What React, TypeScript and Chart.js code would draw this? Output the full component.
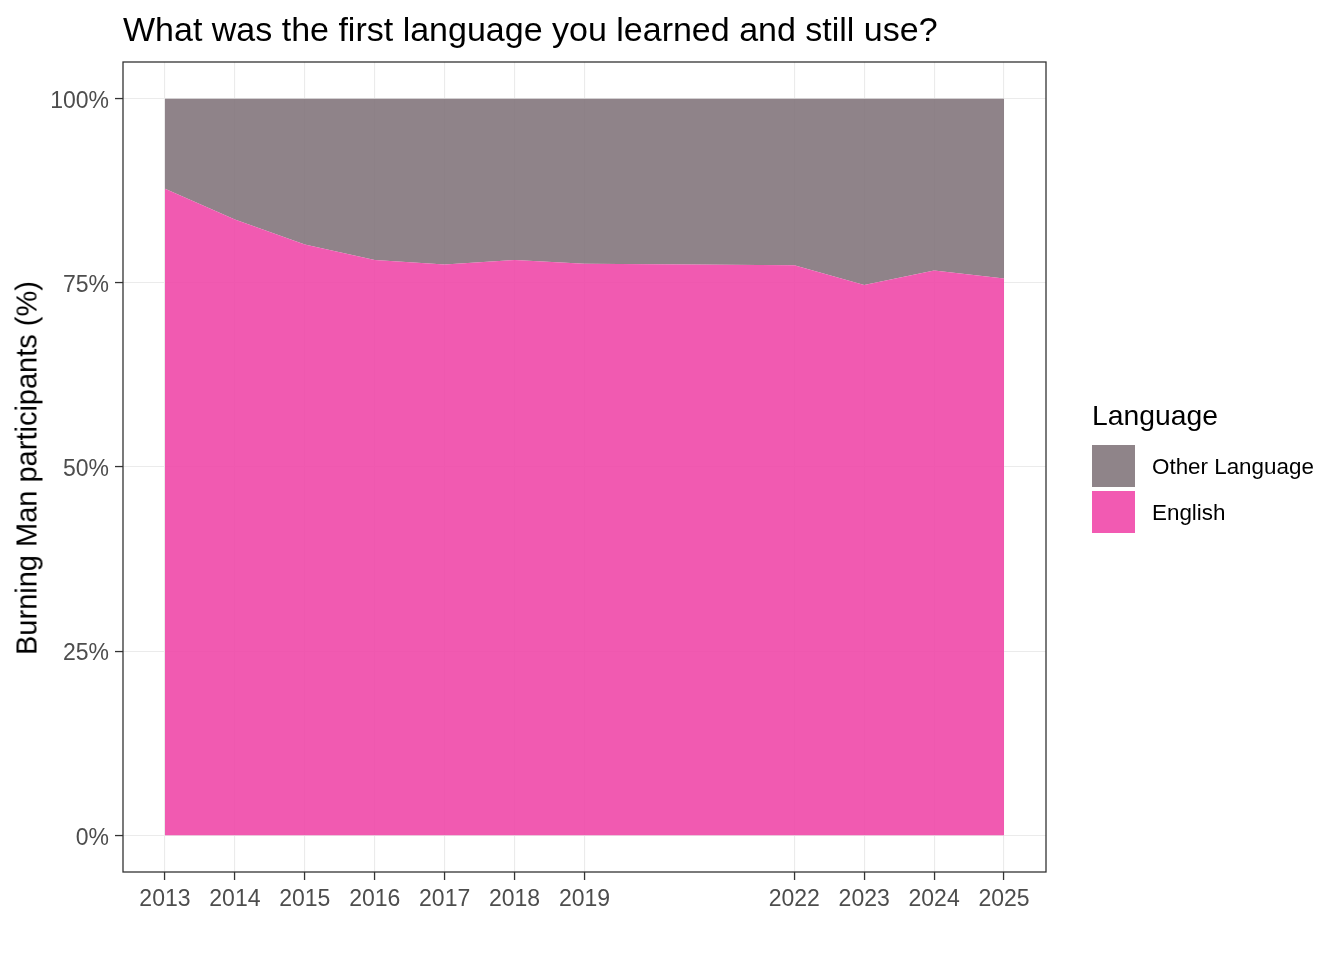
import React, { useEffect, useRef } from 'react';
import { Chart, registerables } from 'chart.js';

Chart.register(...registerables);

const years = [2013, 2014, 2015, 2016, 2017, 2018, 2019, 2022, 2023, 2024, 2025];
const english = [87.8, 83.6, 80.2, 78.1, 77.5, 78.1, 77.6, 77.4, 74.7, 76.7, 75.6];
const otherLanguage = [12.2, 16.4, 19.8, 21.9, 22.5, 21.9, 22.4, 22.6, 25.3, 23.3, 24.4];
const yTicks = [0, 25, 50, 75, 100];

const FONT = '"Liberation Sans", Arial, sans-serif';
const PINK = 'rgba(240, 72, 169, 0.9)';
const GREY = 'rgba(131, 118, 124, 0.9)';

const panelBorder = {
    id: 'panelBorder',
    afterDraw(chart: Chart) {
        const { ctx, chartArea } = chart;
        ctx.save();
        ctx.strokeStyle = '#333333';
        ctx.lineWidth = 1.3;
        ctx.strokeRect(chartArea.left, chartArea.top, chartArea.right - chartArea.left, chartArea.bottom - chartArea.top);
        ctx.restore();
    }
};

export default function App() {
    const canvasRef = useRef<HTMLCanvasElement | null>(null);
    const chartRef = useRef<Chart | null>(null);

    useEffect(() => {
        document.body.style.margin = '0';
        if (!canvasRef.current) return;
        const ctx = canvasRef.current.getContext('2d');
        if (!ctx) return;
        if (chartRef.current) chartRef.current.destroy();

        chartRef.current = new Chart(ctx, {
            type: 'line',
            data: {
                datasets: [
                    {
                        label: 'English',
                        data: years.map((yr, i) => ({ x: yr, y: english[i] })),
                        backgroundColor: PINK,
                        borderWidth: 0,
                        pointRadius: 0,
                        fill: 'origin'
                    },
                    {
                        label: 'Other Language',
                        data: years.map((yr, i) => ({ x: yr, y: otherLanguage[i] })),
                        backgroundColor: GREY,
                        borderWidth: 0,
                        pointRadius: 0,
                        fill: '-1'
                    }
                ]
            },
            options: {
                responsive: false,
                animation: false,
                layout: { padding: { top: 62, right: 298, left: 0, bottom: 0 } },
                scales: {
                    x: {
                        type: 'linear',
                        min: 2012.4,
                        max: 2025.6,
                        afterBuildTicks: (scale: any) => {
                            scale.ticks = years.map(v => ({ value: v }));
                        },
                        afterFit: (scale: any) => {
                            scale.height = 88;
                        },
                        grid: { color: '#EBEBEB', lineWidth: 1.1, tickLength: 8, tickColor: '#333333', tickWidth: 1.3 },
                        border: { display: false },
                        ticks: {
                            autoSkip: false,
                            maxRotation: 0,
                            padding: 6,
                            color: '#4D4D4D',
                            font: { family: FONT, size: 23 },
                            callback: (v: any) => String(v)
                        }
                    },
                    y: {
                        type: 'linear',
                        stacked: true,
                        min: -5,
                        max: 105,
                        afterBuildTicks: (scale: any) => {
                            scale.ticks = yTicks.map(v => ({ value: v }));
                        },
                        afterFit: (scale: any) => {
                            scale.width = 123;
                        },
                        grid: { color: '#EBEBEB', lineWidth: 1.1, tickLength: 8, tickColor: '#333333', tickWidth: 1.3 },
                        border: { display: false },
                        ticks: {
                            padding: 6,
                            labelOffset: 3,
                            color: '#4D4D4D',
                            font: { family: FONT, size: 23 },
                            callback: (v: any) => v + '%'
                        }
                    }
                },
                plugins: {
                    legend: { display: false },
                    tooltip: { enabled: false },
                    title: { display: false }
                }
            },
            plugins: [panelBorder]
        });

        return () => {
            if (chartRef.current) {
                chartRef.current.destroy();
                chartRef.current = null;
            }
        };
    }, []);

    const keyStyle = (bg: string): React.CSSProperties => ({
        position: 'absolute', left: 1092, width: 43, height: 42, background: bg
    });
    const labelStyle: React.CSSProperties = {
        position: 'absolute', left: 1152, fontSize: 22.4, color: '#000', lineHeight: '42px', whiteSpace: 'nowrap'
    };

    return (
        <div style={{ position: 'fixed', left: 0, top: 0, width: 1344, height: 960, background: '#fff', fontFamily: FONT }}>
            <canvas ref={canvasRef} width={1344} height={960} style={{ position: 'absolute', left: 0, top: 0, width: 1344, height: 960 }} />
            <div style={{ position: 'absolute', left: 123, top: 10, fontSize: 34, color: '#000', whiteSpace: 'nowrap' }}>
                What was the first language you learned and still use?
            </div>
            <div style={{
                position: 'absolute', left: 27, top: 468, fontSize: 29, color: '#000', whiteSpace: 'nowrap',
                transform: 'translate(-50%, -50%) rotate(-90deg)'
            }}>
                Burning Man participants (%)
            </div>
            <div style={{ position: 'absolute', left: 1092, top: 399, fontSize: 28.3, color: '#000', whiteSpace: 'nowrap' }}>Language</div>
            <div style={{ ...keyStyle('rgb(143, 132, 137)'), top: 445 }} />
            <div style={{ ...labelStyle, top: 446 }}>Other Language</div>
            <div style={{ ...keyStyle('rgb(242, 90, 178)'), top: 491 }} />
            <div style={{ ...labelStyle, top: 492 }}>English</div>
        </div>
    );
}
